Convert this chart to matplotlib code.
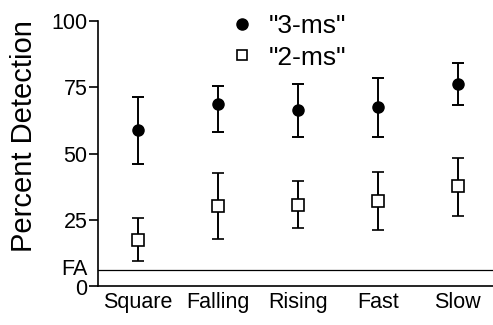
import matplotlib
matplotlib.use("Agg")
import matplotlib.pyplot as plt
import matplotlib.transforms as mtransforms
from matplotlib.lines import Line2D

plt.rcParams["font.family"] = ["Liberation Sans", "DejaVu Sans"]

categories = ["Square", "Falling", "Rising", "Fast", "Slow"]

# "3-ms" condition: mean, lower and upper end of the error bar
ms3_mean = [58.7, 68.7, 66.3, 67.4, 76.2]
ms3_low = [46.1, 58.3, 56.1, 56.1, 68.3]
ms3_high = [71.2, 75.3, 76.3, 78.5, 84.2]

# "2-ms" condition
ms2_mean = [17.5, 30.2, 30.6, 32.1, 37.6]
ms2_low = [9.3, 17.9, 21.8, 21.1, 26.4]
ms2_high = [25.8, 42.7, 39.5, 42.9, 48.4]

fa_level = 6.2
ytick_values = [0, fa_level, 25, 50, 75, 100]
ytick_labels = ["0", "FA", "25", "50", "75", "100"]

fig = plt.figure(figsize=(4.93, 3.25), dpi=100)
ax = fig.add_axes([98 / 493, 39 / 325, 1 - 98 / 493, 265 / 325])

x = list(range(len(categories)))

err3 = [[m - lo for m, lo in zip(ms3_mean, ms3_low)], [hi - m for m, hi in zip(ms3_mean, ms3_high)]]
err2 = [[m - lo for m, lo in zip(ms2_mean, ms2_low)], [hi - m for m, hi in zip(ms2_mean, ms2_high)]]

ax.errorbar(x, ms3_mean, yerr=err3, fmt="o", color="black", markersize=8,
            ecolor="black", elinewidth=1.4, capsize=4, capthick=1.4, zorder=3)
ax.errorbar(x, ms2_mean, yerr=err2, fmt="s", color="black", markerfacecolor="white",
            markeredgecolor="black", markeredgewidth=1.2, markersize=8,
            ecolor="black", elinewidth=1.4, capsize=4, capthick=1.4, zorder=3)

ax.axhline(fa_level, color="black", linewidth=0.9, zorder=1)

ax.set_xlim(-0.5, 4.44)
ax.set_ylim(0, 100)
ax.set_xticks(x)
ax.set_xticklabels(categories, fontsize=15.5)
ax.tick_params(axis="x", length=0, pad=4)
ax.set_yticks(ytick_values)
ax.set_yticklabels(ytick_labels, fontsize=15.5)
ax.tick_params(axis="y", length=6.5, width=1.2, pad=1)
ax.yaxis.get_major_ticks()[1].tick1line.set_visible(False)

# nudge "FA" and "0" apart a little, they sit very close in the original
ylabels = ax.get_yticklabels()
ylabels[1].set_transform(ylabels[1].get_transform() + mtransforms.ScaledTranslation(0, 3 / 100, fig.dpi_scale_trans))
ylabels[0].set_transform(ylabels[0].get_transform() + mtransforms.ScaledTranslation(0, -1 / 100, fig.dpi_scale_trans))

ax.spines["top"].set_visible(False)
ax.spines["right"].set_visible(False)
ax.spines["left"].set_linewidth(1.2)
ax.spines["bottom"].set_linewidth(1.2)

ax.set_ylabel("Percent Detection", fontsize=21)
ax.yaxis.set_label_coords(-0.152, 0.566)

handles = [
    Line2D([], [], marker="o", linestyle="none", color="black", markersize=8),
    Line2D([], [], marker="s", linestyle="none", markerfacecolor="white",
           markeredgecolor="black", markeredgewidth=1.2, markersize=7.5),
]
ax.legend(handles, ['"3-ms"', '"2-ms"'], loc="upper left", bbox_to_anchor=(0.305, 1.077),
          frameon=False, fontsize=19, handlelength=0.8, handletextpad=0.6,
          labelspacing=0.3, borderpad=0)

fig.savefig("out.png", dpi=100)
